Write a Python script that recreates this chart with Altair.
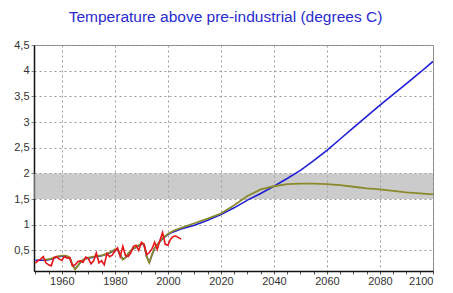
import altair as alt
import pandas as pd

# ---------------- data ----------------
obs_years = list(range(1950, 2006))
obs_temp = [0.25, 0.30, 0.33, 0.38, 0.26, 0.22, 0.20, 0.36, 0.38, 0.33,
            0.31, 0.38, 0.35, 0.36, 0.20, 0.22, 0.28, 0.30, 0.27, 0.37,
            0.34, 0.24, 0.30, 0.45, 0.26, 0.30, 0.22, 0.44, 0.38, 0.41,
            0.49, 0.55, 0.38, 0.58, 0.40, 0.38, 0.45, 0.58, 0.60, 0.50,
            0.66, 0.62, 0.42, 0.46, 0.53, 0.66, 0.52, 0.70, 0.85, 0.62,
            0.60, 0.72, 0.77, 0.78, 0.75, 0.72]

hist_years = list(range(1950, 2006))
future_years = [2010, 2015, 2020, 2025, 2030, 2035, 2040, 2045, 2050, 2055,
                2060, 2065, 2070, 2075, 2080, 2085, 2090, 2095, 2100]

olive_hist = [0.31, 0.31, 0.31, 0.32, 0.32, 0.33, 0.34, 0.36, 0.38, 0.39,
              0.40, 0.40, 0.39, 0.36, 0.22, 0.13, 0.20, 0.27, 0.32, 0.35,
              0.36, 0.37, 0.38, 0.39, 0.40, 0.40, 0.42, 0.44, 0.46, 0.49,
              0.52, 0.53, 0.42, 0.32, 0.36, 0.44, 0.50, 0.54, 0.57, 0.60,
              0.63, 0.62, 0.38, 0.26, 0.42, 0.55, 0.62, 0.68, 0.74, 0.78,
              0.82, 0.85, 0.88, 0.90, 0.92, 0.94]
olive_future = [1.03, 1.12, 1.22, 1.38, 1.56, 1.69, 1.75, 1.79, 1.80, 1.80,
                1.79, 1.77, 1.74, 1.71, 1.69, 1.66, 1.63, 1.61, 1.59]

blue_hist = [0.31, 0.31, 0.31, 0.31, 0.31, 0.32, 0.33, 0.35, 0.37, 0.38,
             0.39, 0.39, 0.38, 0.35, 0.22, 0.14, 0.20, 0.27, 0.31, 0.34,
             0.35, 0.36, 0.37, 0.38, 0.39, 0.40, 0.41, 0.43, 0.45, 0.48,
             0.51, 0.52, 0.42, 0.33, 0.36, 0.43, 0.49, 0.53, 0.56, 0.59,
             0.62, 0.61, 0.38, 0.27, 0.41, 0.54, 0.61, 0.67, 0.73, 0.77,
             0.81, 0.84, 0.86, 0.88, 0.90, 0.92]
blue_future = [0.99, 1.09, 1.20, 1.33, 1.48, 1.61, 1.75, 1.90, 2.06, 2.25,
               2.45, 2.67, 2.89, 3.11, 3.33, 3.54, 3.75, 3.96, 4.18]

band = [1.5, 2.0]
y_ticks = [0.5, 1, 1.5, 2, 2.5, 3, 3.5, 4, 4.5]
x_ticks = list(range(1950, 2101, 5))

# ---------------- tables ----------------
obs_df = pd.DataFrame({"year": obs_years, "temp": obs_temp, "series": "observed"})
olive_df = pd.DataFrame({"year": hist_years[3:] + future_years,
                         "temp": olive_hist[3:] + olive_future, "series": "olive"})
blue_df = pd.DataFrame({"year": hist_years + future_years,
                        "temp": blue_hist + blue_future, "series": "blue"})
band_df = pd.DataFrame({"lo": [band[0]], "hi": [band[1]]})

W, H = 399, 226
FONT = "Liberation Sans"

x_scale = alt.Scale(domain=[1949.5, 2100], nice=False, zero=False)
y_scale = alt.Scale(domain=[0.1, 4.5], nice=False, zero=False)

x_axis = alt.Axis(
    values=x_ticks,
    labelExpr="datum.value % 20 === 0 ? toString(datum.value) : ''",
    title=None,
    grid=True,
    gridOpacity={"condition": {"test": "datum.value % 20 === 0", "value": 1}, "value": 0},
    gridDash=[2, 3], gridColor="#9a9a9a", gridWidth=1,
    tickSize=3, tickColor="#555", labelPadding=1,
    domainColor="#111", domainWidth=1.5,
    labelFont=FONT, labelFontSize=11, labelColor="#333",
)
y_axis = alt.Axis(
    values=y_ticks,
    labelExpr="replace(toString(datum.value), '.', ',')",
    title=None,
    grid=True, gridDash=[2, 3], gridColor="#9a9a9a", gridWidth=1,
    tickSize=3, tickColor="#888", labelPadding=2,
    domainColor="#111", domainWidth=1.5,
    labelFont=FONT, labelFontSize=11, labelColor="#333",
)

band_layer = alt.Chart(band_df).mark_rect(color="#a8a8a8", opacity=0.6).encode(
    x=alt.value(0), x2=alt.value(W),
    y=alt.Y("lo:Q", scale=y_scale, axis=y_axis), y2="hi:Q",
)

def line(df, color, width):
    return alt.Chart(df).mark_line(color=color, strokeWidth=width, clip=True).encode(
        x=alt.X("year:Q", scale=x_scale, axis=x_axis),
        y=alt.Y("temp:Q", scale=y_scale, axis=y_axis),
    )

chart = alt.layer(
    band_layer,
    line(blue_df, "#1f1fd6", 1.6),
    line(olive_df, "#8a8a2c", 1.8),
    line(obs_df, "#e8141a", 1.6),
).properties(
    width=W, height=H,
    autosize="none",
    padding={"left": 26, "top": 37, "right": 12, "bottom": 14},
    title=alt.TitleParams(
        "Temperature above pre-industrial (degrees C)",
        font=FONT, fontSize=15.5, fontWeight="normal", color="#2a2ad0",
        anchor="middle", offset=14, dx=-8,
    ),
).configure_view(stroke="#888", strokeWidth=1)

chart.save("out.html", embed_options={"renderer": "svg", "actions": False})
